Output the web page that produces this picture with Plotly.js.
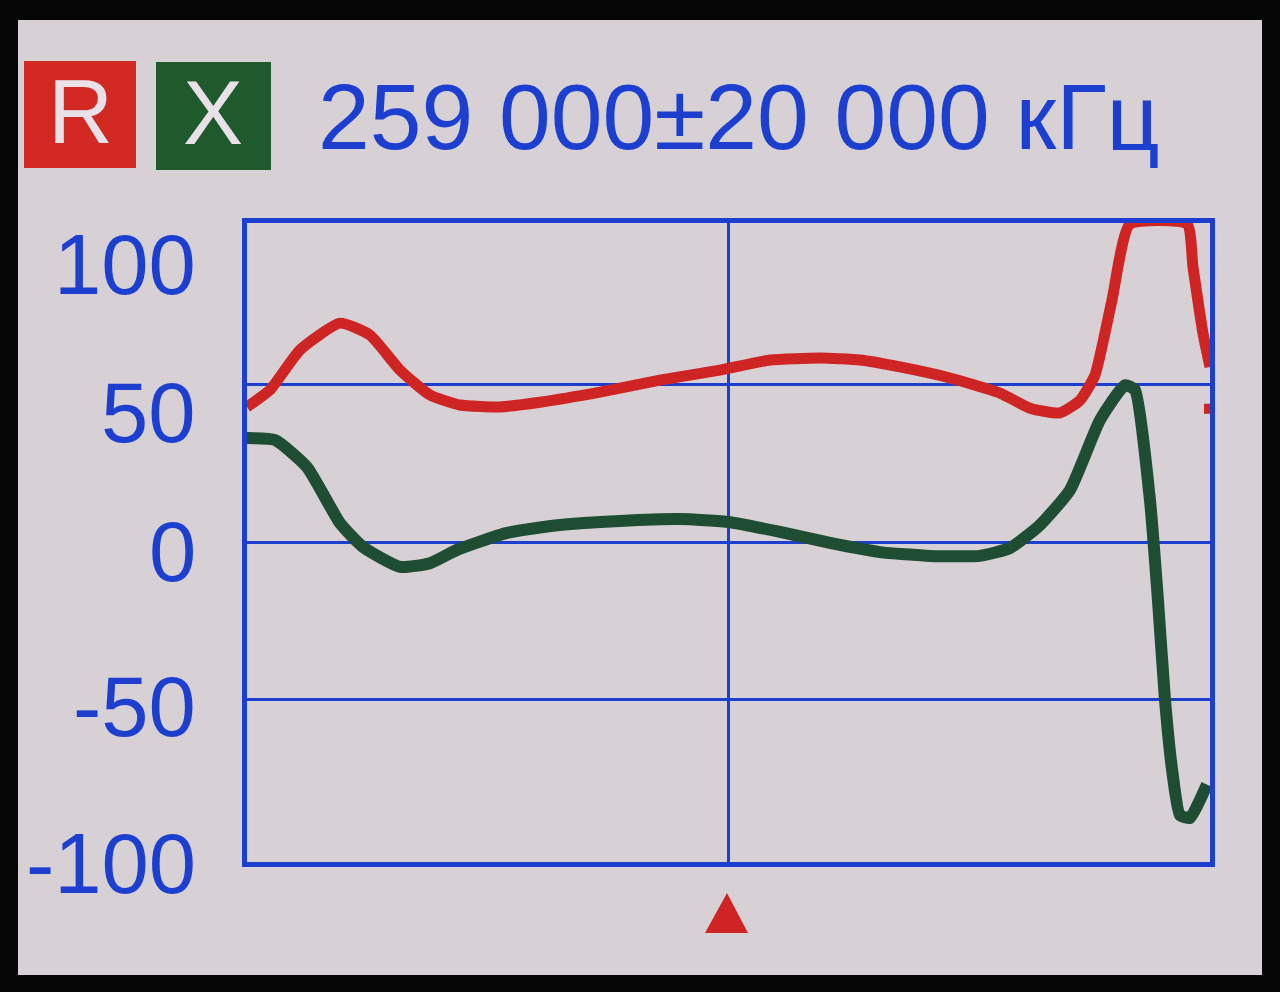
<!DOCTYPE html>
<html>
<head>
<meta charset="utf-8">
<script src="https://cdn.plot.ly/plotly-3.0.1.min.js"></script>
<style>
html,body{margin:0;padding:0;background:#050505;}
#chart{width:1280px;height:992px;}
</style>
</head>
<body>
<div id="chart"></div>
<script>
// ---- data (frequency in kHz, values in ohms) ----
const centerFreq = 259000;
const spanFreq = 20000;
const titleText = "259 000±20 000 кГц";
const seriesNames = ["R", "X"];

const freqR = [239000, 239955, 241201, 242863, 244109, 245355, 246601, 247847, 249508, 251170,
               253662, 256154, 258645, 260723, 262800, 264461, 266122, 268199, 270276, 271522,
               272768, 273599, 274222, 274928, 275676, 278043, 278293, 278708, 279000];
const valR  = [42.9, 48.3, 61.0, 69.5, 65.7, 54.6, 46.7, 43.5, 42.9, 44.4,
               47.6, 51.4, 54.6, 57.8, 58.4, 57.8, 55.6, 52.1, 47.3, 42.5,
               41.0, 45.0, 53.0, 76.8, 101, 101, 87.3, 66.3, 55.6];
// stray last sample of R drawn by the device at the right edge
const freqRTail = [278750, 279000];
const valRTail  = [42.3, 42.3];

const freqX = [239000, 240163, 241492, 242863, 243818, 245355, 246601, 247722, 249799, 252000,
               254492, 256984, 259061, 261137, 263214, 265291, 267368, 269444, 270690, 271936,
               273182, 274428, 275467, 275882, 276506, 276838, 277129, 277420, 277752, 278167,
               278583, 278874];
const valX  = [33.0, 32.4, 23.8, 6.0, -1.6, -7.9, -6.7, -2.5, 2.9, 5.4,
               6.7, 7.3, 6.3, 3.2, -0.3, -3.2, -4.4, -4.4, -1.9, 5.4,
               16.5, 38.7, 49.8, 48.3, 13.3, -18.4, -50.0, -72.0, -86.7, -87.6,
               -81.9, -77.0];

const yTickLabels = [100, 50, 0, -50, -100];
const yGridVals = [50, 0, -50];

// ---- layout helpers (pixel -> paper) ----
const PL = 247, PR = 1210, PT = 223, PB = 862;
const px = x => (x - PL) / (PR - PL);
const py = y => (PB - y) / (PB - PT);

const BLUE = '#1c3fd0';
const RED = '#cf2424';
const GREEN = '#1f4d33';
const SCREEN = '#d7d1d5';
const FONT = 'Liberation Sans, Arial, sans-serif';

const labelShift = [37, 28, 9, 7, 7]; // pixel offsets of the device's label glyphs

const traces = [
  {x: freqR, y: valR, name: seriesNames[0], mode: 'lines', type: 'scatter',
   line: {color: RED, width: 11, shape: 'spline', smoothing: 0.5}, cliponaxis: true},
  {x: freqRTail, y: valRTail, name: seriesNames[0], mode: 'lines', type: 'scatter',
   line: {color: RED, width: 10}, cliponaxis: true},
  {x: freqX, y: valX, name: seriesNames[1], mode: 'lines', type: 'scatter',
   line: {color: GREEN, width: 12, shape: 'spline', smoothing: 0.5}, cliponaxis: true}
];

const annotations = yTickLabels.map((v, i) => ({
  xref: 'paper', yref: 'y', x: px(198), y: v, yshift: -labelShift[i],
  xanchor: 'right', yanchor: 'middle', showarrow: false,
  text: String(v), font: {family: FONT, size: 85, color: BLUE}
}));
annotations.push(
  {xref: 'paper', yref: 'paper', x: px(80), y: py(112), xanchor: 'center', yanchor: 'middle',
   showarrow: false, text: seriesNames[0], font: {family: FONT, size: 90, color: '#e8e2e8'}},
  {xref: 'paper', yref: 'paper', x: px(213), y: py(113), xanchor: 'center', yanchor: 'middle',
   showarrow: false, text: seriesNames[1], font: {family: FONT, size: 90, color: '#e8e2e8'}}
);

const shapes = [
  {type: 'rect', xref: 'paper', yref: 'paper', x0: px(18), x1: px(1262), y0: py(975), y1: py(20),
   fillcolor: SCREEN, line: {width: 0}, layer: 'below'},
  {type: 'rect', xref: 'paper', yref: 'paper', x0: px(24), x1: px(136), y0: py(168), y1: py(61),
   fillcolor: '#d22a22', line: {width: 0}, layer: 'below'},
  {type: 'rect', xref: 'paper', yref: 'paper', x0: px(156), x1: px(271), y0: py(170), y1: py(62),
   fillcolor: '#1f5a2c', line: {width: 0}, layer: 'below'},
  // center-frequency marker
  {type: 'path', xref: 'paper', yref: 'paper',
   path: 'M ' + px(705) + ' ' + py(933) + ' L ' + px(748) + ' ' + py(933) + ' L ' + px(727) + ' ' + py(893) + ' Z',
   fillcolor: RED, line: {width: 0}, layer: 'above'}
];

const layout = {
  width: 1280, height: 992,
  margin: {l: PL, r: 1280 - PR, t: PT, b: 992 - PB, pad: 0},
  paper_bgcolor: '#050505',
  plot_bgcolor: SCREEN,
  showlegend: false,
  title: {
    text: titleText, xref: 'container', yref: 'container',
    x: 318 / 1280, xanchor: 'left', y: 1 - 116 / 992, yanchor: 'middle',
    font: {family: FONT, size: 93, color: BLUE}
  },
  xaxis: {
    range: [centerFreq - spanFreq, centerFreq + spanFreq],
    tickvals: [centerFreq], showticklabels: false, ticks: '',
    showgrid: true, gridcolor: BLUE, gridwidth: 3, zeroline: false,
    showline: true, mirror: true, linecolor: BLUE, linewidth: 5, fixedrange: true
  },
  yaxis: {
    range: [-101.6, 101.3],
    tickvals: yGridVals, showticklabels: false, ticks: '',
    showgrid: true, gridcolor: BLUE, gridwidth: 3, zeroline: false,
    showline: true, mirror: true, linecolor: BLUE, linewidth: 5, fixedrange: true
  },
  shapes: shapes,
  annotations: annotations
};

Plotly.newPlot('chart', traces, layout, {displayModeBar: false, staticPlot: true});
</script>
</body>
</html>
